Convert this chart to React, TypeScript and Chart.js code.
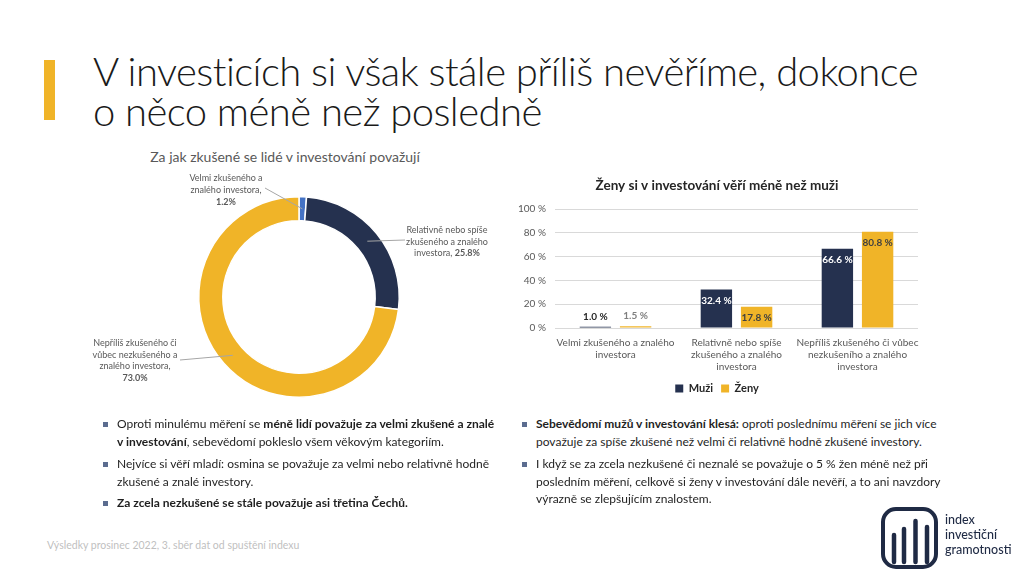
import React, { useEffect, useRef } from "react";
import { Chart, registerables } from "chart.js";

Chart.register(...registerables);

// ---------- DATA ----------
const donutCategories = [
  "Velmi zkušeného a znalého investora",
  "Relativně nebo spíše zkušeného a znalého investora",
  "Nepříliš zkušeného či vůbec nezkušeného a znalého investora",
];
const donutValues = [1.2, 25.8, 73.0];
const donutColors = ["#4472C4", "#25314F", "#F0B428"];

const barCategories = [
  ["Velmi zkušeného a znalého", "investora"],
  ["Relativně nebo spíše", "zkušeného a znalého", "investora"],
  ["Nepříliš zkušeného či vůbec", "nezkušeního a znalého", "investora"],
];
const seriesNames = ["Muži", "Ženy"];
const muziValues = [1.0, 32.4, 66.6];
const zenyValues = [1.5, 17.8, 80.8];
const seriesColors = ["#25314F", "#F0B428"];
const yTickValues = [0, 20, 40, 60, 80, 100];

// ---------- LAYOUT ----------
const FONT = "Lato, 'Open Sans', sans-serif";
const DONUT_LEFT = 80;
const DONUT_TOP = 165;
const DONUT_W = 420;
const DONUT_H = 255;
// start points (page coords) of leader lines, next to each label
const leaderStarts = [
  [265, 188],
  [405, 240],
  [180, 360],
];

const BAR_LEFT = 516;
const BAR_TOP = 172;
const BAR_W = 414;
const BAR_H = 232;

function DonutChart() {
  const ref = useRef<HTMLCanvasElement | null>(null);
  useEffect(() => {
    if (!ref.current) return;
    const leaderPlugin = {
      id: "leaders",
      afterDatasetsDraw(chart: any) {
        const meta = chart.getDatasetMeta(0);
        const ctx = chart.ctx;
        ctx.save();
        ctx.strokeStyle = "#A6A6A6";
        ctx.lineWidth = 1;
        meta.data.forEach((arc: any, i: number) => {
          const p = arc.tooltipPosition(false);
          const [sx, sy] = leaderStarts[i];
          ctx.beginPath();
          ctx.moveTo(sx - DONUT_LEFT, sy - DONUT_TOP);
          ctx.lineTo(p.x, p.y);
          ctx.stroke();
        });
        ctx.restore();
      },
    };
    const chart = new Chart(ref.current, {
      type: "doughnut",
      data: {
        labels: donutCategories,
        datasets: [
          {
            data: donutValues,
            backgroundColor: donutColors,
            borderColor: "#ffffff",
            borderWidth: 1.5,
          },
        ],
      },
      options: {
        responsive: false,
        animation: false,
        cutout: "76%",
        layout: { padding: { left: 118, right: 100, top: 31, bottom: 22 } },
        plugins: { legend: { display: false }, tooltip: { enabled: false } },
      },
      plugins: [leaderPlugin],
    });
    return () => chart.destroy();
  }, []);
  return (
    <canvas
      ref={ref}
      width={DONUT_W}
      height={DONUT_H}
      style={{ position: "absolute", left: DONUT_LEFT, top: DONUT_TOP, width: DONUT_W, height: DONUT_H }}
    />
  );
}

function BarChart() {
  const ref = useRef<HTMLCanvasElement | null>(null);
  useEffect(() => {
    if (!ref.current) return;
    const labelPlugin = {
      id: "valueLabels",
      afterDatasetsDraw(chart: any) {
        const ctx = chart.ctx;
        ctx.save();
        ctx.font = `bold 10px ${FONT}`;
        ctx.textAlign = "center";
        ctx.textBaseline = "middle";
        chart.data.datasets.forEach((ds: any, di: number) => {
          const meta = chart.getDatasetMeta(di);
          meta.data.forEach((bar: any, i: number) => {
            const v = ds.data[i];
            const txt = v.toFixed(1) + " %";
            if (v < 5) {
              ctx.fillStyle = di === 0 ? "#262626" : "#7F7F7F";
              ctx.fillText(txt, bar.x, bar.y - 10);
            } else {
              ctx.fillStyle = di === 0 ? "#FFFFFF" : "#404040";
              ctx.fillText(txt, bar.x, bar.y + 11);
            }
          });
        });
        ctx.restore();
      },
    };
    const chart = new Chart(ref.current, {
      type: "bar",
      data: {
        labels: barCategories,
        datasets: [
          {
            label: seriesNames[0],
            data: muziValues,
            backgroundColor: seriesColors[0],
            categoryPercentage: 0.665,
            barPercentage: 0.78,
          },
          {
            label: seriesNames[1],
            data: zenyValues,
            backgroundColor: seriesColors[1],
            categoryPercentage: 0.665,
            barPercentage: 0.78,
          },
        ],
      },
      options: {
        responsive: false,
        animation: false,
        layout: { padding: { left: 0, right: 12, top: 0, bottom: 0 } },
        scales: {
          y: {
            min: 0,
            max: 100,
            afterBuildTicks: (s: any) => {
              s.ticks = yTickValues.map((v) => ({ value: v }));
            },
            afterFit: (s: any) => {
              s.width = 39;
            },
            ticks: {
              callback: (v: any) => v + " %",
              color: "#595959",
              font: { family: FONT, size: 10 },
              padding: 9,
            },
            grid: { color: "#D9D9D9", lineWidth: 1, drawTicks: false },
            border: { display: false },
          },
          x: {
            afterFit: (s: any) => {
              s.height = 47;
            },
            ticks: {
              color: "#595959",
              font: { family: FONT, size: 10, lineHeight: 1.2 },
              padding: 9,
              maxRotation: 0,
              autoSkip: false,
            },
            grid: { display: false, drawTicks: false },
            border: { display: false },
          },
        },
        plugins: {
          title: {
            display: true,
            text: "Ženy si v investování věří méně než muži",
            color: "#262626",
            font: { family: FONT, size: 13.5, weight: "bold", lineHeight: 1.2 },
            padding: { top: 6, bottom: 14.8 },
          },
          legend: {
            display: true,
            position: "bottom",
            labels: {
              color: "#262626",
              font: { family: FONT, size: 11, weight: "bold" },
              boxWidth: 8,
              boxHeight: 8,
              padding: 8,
            },
          },
          tooltip: { enabled: false },
        },
      },
      plugins: [labelPlugin],
    });
    return () => chart.destroy();
  }, []);
  return (
    <canvas
      ref={ref}
      width={BAR_W}
      height={BAR_H}
      style={{ position: "absolute", left: BAR_LEFT, top: BAR_TOP, width: BAR_W, height: BAR_H }}
    />
  );
}

const abs = (left: number, top: number, extra: any = {}) => ({ position: "absolute" as const, left, top, ...extra });

function Bullet({ x, y, lines }: { x: number; y: number; lines: React.ReactNode[] }) {
  return (
    <>
      <div style={abs(x - 14, y - 2, { width: 4.5, height: 4.5, background: "#5B6C8F" })} />
      <div style={abs(x, y - 8.75, { fontSize: 12, lineHeight: "17.5px", color: "#1F1F1F", whiteSpace: "nowrap" })}>
        {lines.map((l, i) => (
          <div key={i}>{l}</div>
        ))}
      </div>
    </>
  );
}

export default function App() {
  return (
    <div
      style={{
        position: "absolute",
        left: 0,
        top: 0,
        width: 1024,
        height: 575,
        overflow: "hidden",
        background: "#fff",
        fontFamily: FONT,
      }}
    >
      {/* accent bar */}
      <div style={abs(44, 60, { width: 11, height: 60, background: "#F0B428" })} />
      {/* slide title */}
      <div
        style={abs(93, 51, {
          fontSize: 40,
          lineHeight: "40px",
          fontWeight: 300,
          letterSpacing: "-0.55px",
          color: "#1A1A1A",
          whiteSpace: "nowrap",
        })}
      >
        <div>V investicích si však stále příliš nevěříme, dokonce</div>
        <div>o něco méně než posledně</div>
      </div>

      {/* donut title */}
      <div style={abs(85, 148, { width: 400, textAlign: "center", fontSize: 14, lineHeight: "18px", color: "#595959" })}>
        Za jak zkušené se lidé v investování považují
      </div>

      <DonutChart />

      {/* donut labels */}
      <div style={abs(166, 172, { width: 120, textAlign: "center", fontSize: 9, lineHeight: "11.8px", color: "#595959" })}>
        <div>Velmi zkušeného a</div>
        <div>znalého investora,</div>
        <div style={{ fontWeight: 700 }}>1.2%</div>
      </div>
      <div style={abs(387, 224, { width: 120, textAlign: "center", fontSize: 9, lineHeight: "11.6px", color: "#595959" })}>
        <div>Relativně nebo spíše</div>
        <div>zkušeného a znalého</div>
        <div>
          investora, <b>25.8%</b>
        </div>
      </div>
      <div style={abs(75, 337, { width: 120, textAlign: "center", fontSize: 9, lineHeight: "11.7px", color: "#595959" })}>
        <div>Nepříliš zkušeného či</div>
        <div>vůbec nezkušeného a</div>
        <div>znalého investora,</div>
        <div style={{ fontWeight: 700 }}>73.0%</div>
      </div>

      <BarChart />

      {/* bullets left */}
      <Bullet
        x={117}
        y={424}
        lines={[
          <>
            Oproti minulému měření se <b>méně lidí považuje za velmi zkušené a znalé</b>
          </>,
          <>
            <b>v investování</b>, sebevědomí pokleslo všem věkovým kategoriím.
          </>,
        ]}
      />
      <Bullet
        x={117}
        y={464}
        lines={["Nejvíce si věří mladí: osmina se považuje za velmi nebo relativně hodně", "zkušené a znalé investory."]}
      />
      <Bullet x={117} y={503} lines={[<b>Za zcela nezkušené se stále považuje asi třetina Čechů.</b>]} />

      {/* bullets right */}
      <Bullet
        x={536}
        y={424}
        lines={[
          <>
            <b>Sebevědomí mužů v investování klesá:</b> oproti poslednímu měření se jich více
          </>,
          "považuje za spíše zkušené než velmi či relativně hodně zkušené investory.",
        ]}
      />
      <Bullet
        x={536}
        y={464}
        lines={[
          "I když se za zcela nezkušené či neznalé se považuje o 5 % žen méně než při",
          "posledním měření, celkově si ženy v investování dále nevěří, a to ani navzdory",
          "výrazně se zlepšujícím znalostem.",
        ]}
      />

      {/* footer */}
      <div style={abs(47, 538, { fontSize: 10.5, lineHeight: "14px", color: "#BFBFBF", whiteSpace: "nowrap" })}>
        Výsledky prosinec 2022, 3. sběr dat od spuštění indexu
      </div>

      {/* logo */}
      <svg style={abs(880, 506)} width={60} height={64} viewBox="0 0 60 64">
        <rect x={3} y={3} width={53} height={58} rx={13} ry={13} fill="none" stroke="#1F2A44" strokeWidth={4} />
        <line x1={14} y1={29} x2={14} y2={56} stroke="#1F2A44" strokeWidth={4.5} strokeLinecap="round" />
        <line x1={24} y1={23} x2={24} y2={56} stroke="#1F2A44" strokeWidth={4.5} strokeLinecap="round" />
        <line x1={35.5} y1={15} x2={35.5} y2={56} stroke="#1F2A44" strokeWidth={4.5} strokeLinecap="round" />
        <line x1={47} y1={21} x2={47} y2={56} stroke="#1F2A44" strokeWidth={4.5} strokeLinecap="round" />
      </svg>
      <div style={abs(945, 512, { fontSize: 12.5, lineHeight: "15px", color: "#1F2A44", fontWeight: 500, whiteSpace: "nowrap" })}>
        <div>index</div>
        <div>investiční</div>
        <div>gramotnosti</div>
      </div>
    </div>
  );
}
